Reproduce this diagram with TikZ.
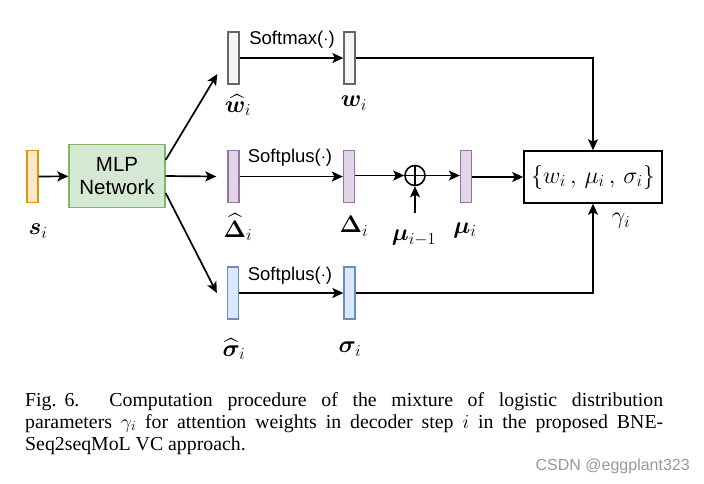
\RequirePackage{fix-cm}
\documentclass[tikz,border=0pt]{standalone}
\usepackage{amsmath,bm}
\usepackage{fontspec}
\setmainfont{Liberation Serif}
\newfontfamily\lsans{Liberation Sans}
\usetikzlibrary{arrows.meta,calc}
\definecolor{orf}{HTML}{FFE6CC}\definecolor{ord}{HTML}{D79B00}
\definecolor{grf}{HTML}{D5E8D4}\definecolor{grd}{HTML}{82B366}
\definecolor{gyf}{HTML}{F5F5F5}\definecolor{gyd}{HTML}{666666}
\definecolor{puf}{HTML}{E1D5E7}\definecolor{pud}{HTML}{9673A6}
\definecolor{blf}{HTML}{DAE8FC}\definecolor{bld}{HTML}{6C8EBF}
\begin{document}
\begin{tikzpicture}[x=1pt,y=-1pt,
  vbar/.style={draw, line width=1.3pt, minimum width=11pt, minimum height=52pt, inner sep=0pt},
  arr/.style={line width=1.7pt, -{Stealth[length=11pt,width=10pt,inset=2.5pt]}},
  ln/.style={line width=1.6pt},
  lab/.style={font=\fontsize{24}{26}\selectfont, inner sep=0pt},
  fn/.style={font=\lsans\fontsize{18.5}{20}\selectfont, inner sep=0pt},
  captxt/.style={anchor=base west, inner sep=0pt, font=\fontsize{19.8}{21.5}\selectfont}]
\useasboundingbox (0,0) rectangle (704,483);
% bars
\node[vbar, fill=orf, draw=ord] (s) at (32.5,176.5) {};
\node[draw=grd, fill=grf, line width=1.3pt, minimum width=96pt, minimum height=63pt, inner sep=0pt, align=center,
      font=\lsans\fontsize{20.5}{22.5}\selectfont] (mlp) at (117,176) {MLP\\Network};
\node[vbar, fill=gyf, draw=gyd] (wh) at (233.5,58) {};
\node[vbar, fill=gyf, draw=gyd] (w) at (349.5,58) {};
\node[vbar, fill=puf, draw=pud] (dh) at (233.5,176.5) {};
\node[vbar, fill=puf, draw=pud] (d) at (349,176.5) {};
\node[draw, circle, line width=1.6pt, minimum size=20pt, inner sep=0pt] (p) at (415,175.5) {};
\node[vbar, fill=puf, draw=pud] (mu) at (466,176.5) {};
\node[draw, line width=1.6pt, minimum width=138pt, minimum height=52pt, inner sep=0pt, lab] (box) at (593,177)
  {$\{w_i\,,\,\mu_i\,,\,\sigma_i\}$};
\node[vbar, fill=blf, draw=bld] (sh) at (233,293) {};
\node[vbar, fill=blf, draw=bld] (sg) at (349.5,293) {};
% plus sign
\draw[ln] (p.north) -- (p.south) (p.west) -- (p.east);
% labels
\node[lab] (ls) at (38,231) {$\bm{s}_i$};
\node[lab] (lwh) at (238,105) {$\widehat{\bm{w}}_i$};
\node[lab] (lw) at (354,103) {$\bm{w}_i$};
\node[lab] (ldh) at (238,227) {$\widehat{\bm{\Delta}}_i$};
\node[lab] (ld) at (354,226) {$\bm{\Delta}_i$};
\node[lab] (lm1) at (414,238) {$\bm{\mu}_{i-1}$};
\coordinate (m1) at (415,213);
\node[lab] (lmu) at (465,230) {$\bm{\mu}_i$};
\node[lab] (lg) at (621,221) {$\gamma_i$};
\node[lab] (lsh) at (234,349) {$\widehat{\bm{\sigma}}_i$};
\node[lab] (lsg) at (350,349) {$\bm{\sigma}_i$};
\node[fn] (f1) at (292,40) {Softmax($\cdot$)};
\node[fn] (f2) at (290,158) {Softplus($\cdot$)};
\node[fn] (f3) at (290,276) {Softplus($\cdot$)};
% connectors
\draw[arr] (s) -- (mlp);
\draw[arr] ([yshift=16pt]mlp.east) -- ([xshift=-10pt,yshift=-16pt]wh.west);
\draw[arr] (mlp.east) -- ([xshift=-11pt]dh.west);
\draw[arr] ([yshift=-17pt]mlp.east) -- ([xshift=-10pt]sh.west);
\draw[arr] (wh) -- (w);
\draw[arr] (dh) -- (d);
\draw[arr] (sh) -- (sg);
\draw[arr] (d.east |- p.west) -- (p.west);
\draw[arr] (p.east) -- (p.east -| mu.west);
\draw[arr] (m1) -- (p.south);
\draw[arr] (mu.east |- box.west) -- (box.west);
\draw[arr] (w.east) -| (box.north);
\draw[arr] (sg.east) -| (box.south);
% caption
\node[captxt] (c1) at (25,406)
  {\makebox[638pt][s]{Fig.\kern8pt6.\kern30pt Computation procedure of the mixture of logistic distribution}};
\node[captxt] (c2) at (25,428)
  {\makebox[638pt][s]{parameters $\gamma_i$ for attention weights in decoder step $i$ in the proposed BNE-}};
\node[captxt] (c3) at (25,450)
  {Seq2seqMoL VC approach.};
\node[anchor=base east, inner sep=0pt, text=black!40, font=\lsans\fontsize{16}{18}\selectfont] (wm) at (690,470)
  {CSDN @eggplant323};
\end{tikzpicture}
\end{document}
